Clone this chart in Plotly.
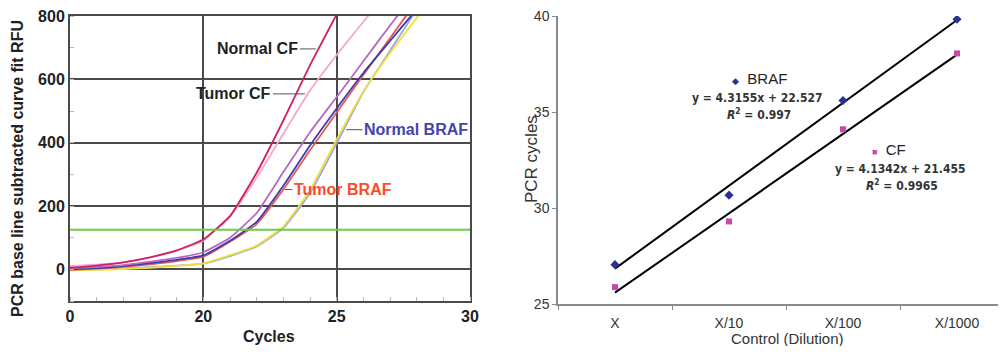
import plotly.graph_objects as go

# ---------------- data: left panel (amplification curves) ----------------
cycles = [15, 16, 17, 18, 19, 20, 21, 22, 23, 24, 25, 26, 27, 28, 29]
normal_cf_a = [5, 12, 22, 38, 60, 94, 168, 305, 470, 645, 805, 960, 1110, 1260, 1400]
tumor_cf_a = [10, 15, 22, 38, 58, 90, 167, 290, 428, 565, 677, 782, 885, 990, 1090]
tumor_braf_a = [3, 7, 13, 24, 36, 54, 100, 178, 307, 433, 544, 657, 770, 880, 990]
tumor_braf_b = [0, 4, 10, 20, 30, 44, 90, 150, 264, 391, 508, 620, 721, 821, 920]
tumor_braf_c = [-2, 2, 8, 16, 26, 40, 87, 143, 252, 376, 495, 614, 730, 847, 960]
normal_braf_a = [-3, -2, 1, 5, 11, 19, 45, 75, 135, 250, 410, 562, 683, 794, 910]
normal_braf_b = [-2, 0, 3, 7, 12, 18, 42, 72, 130, 240, 398, 560, 690, 820, 940]
threshold = 125
x_tick_vals = [15, 20, 25, 30]
x_tick_text = ["0", "20", "25", "30"]
y_tick_vals = [0, 200, 400, 600, 800]

# ---------------- data: right panel (standard curves) ----------------
dilutions = ["X", "X/10", "X/100", "X/1000"]
dil_idx = [1, 2, 3, 4]
braf_ct = [27.05, 30.67, 35.6, 39.83]
cf_ct = [25.88, 29.3, 34.1, 38.05]
braf_slope, braf_intercept = 4.3155, 22.527
cf_slope, cf_intercept = 4.1342, 21.455

FONT = "Liberation Sans, Arial, sans-serif"
NARROW = "Liberation Sans Narrow, Arial Narrow, DejaVu Sans Condensed, Roboto Condensed, Roboto, sans-serif"

# page body has an 8px default margin: size figure to fit the 1006x354 window
OFF = 8
W, H = 1006 - 2 * OFF, 354 - 2 * OFF


def px_x(x):
    return (x - OFF) / W


def px_y(y):
    return 1 - (y - OFF) / H


fig = go.Figure()

curves = [
    (normal_braf_b, "#a0a4e0"),
    (normal_braf_a, "#ece23a"),
    (tumor_braf_c, "#e85858"),
    (tumor_braf_b, "#3c3ca8"),
    (tumor_braf_a, "#b866c8"),
    (tumor_cf_a, "#f7a6cc"),
    (normal_cf_a, "#cc2266"),
]
for ys, col in curves:
    fig.add_trace(go.Scatter(x=cycles, y=ys, mode="lines", xaxis="x", yaxis="y",
                             line=dict(color=col, width=1.8, shape="spline", smoothing=0.4),
                             showlegend=False, hoverinfo="skip"))

# threshold line
fig.add_shape(type="line", xref="x domain", x0=0, x1=1, yref="y", y0=threshold, y1=threshold,
              line=dict(color="#6ccc3c", width=2))

# ---------------- right panel ----------------
braf_fit = [braf_slope * v + braf_intercept for v in dil_idx]
cf_fit = [cf_slope * v + cf_intercept for v in dil_idx]
fig.add_trace(go.Scatter(x=dil_idx, y=braf_fit, mode="lines", xaxis="x2", yaxis="y2",
                         line=dict(color="black", width=2), showlegend=False))
fig.add_trace(go.Scatter(x=dil_idx, y=cf_fit, mode="lines", xaxis="x2", yaxis="y2",
                         line=dict(color="black", width=2), showlegend=False))
fig.add_trace(go.Scatter(x=dil_idx, y=braf_ct, mode="markers", xaxis="x2", yaxis="y2",
                         marker=dict(symbol="diamond", size=7, color="#2e2e9a"), showlegend=False))
fig.add_trace(go.Scatter(x=dil_idx, y=cf_ct, mode="markers", xaxis="x2", yaxis="y2",
                         marker=dict(symbol="square", size=6, color="#c848b0"), showlegend=False))

right_end = min(1.0, px_x(1003))
right_range_end = 0.5 + (right_end * W + OFF - 558) / 114.0

grid_col = "#4a4a4a"
fig.update_layout(
    width=W, height=H,
    autosize=False,
    margin=dict(l=0, r=0, t=0, b=0, pad=0, autoexpand=False),
    paper_bgcolor="white", plot_bgcolor="white",
    font=dict(family=FONT, color="#222"),
    xaxis=dict(domain=[px_x(70), px_x(470)], range=[15, 30], anchor="y", automargin=False,
               tickmode="array", tickvals=x_tick_vals, ticktext=x_tick_text,
               ticklabeloverflow="allow",
               showgrid=True, gridcolor=grid_col, gridwidth=1.5,
               showline=True, linecolor=grid_col, linewidth=2, mirror=True,
               ticks="", zeroline=False,
               tickfont=dict(size=16, family=FONT, weight="bold", color="#222"),
               minor=dict(dtick=1, ticks="inside", ticklen=4, tickcolor="#bbbbbb", showgrid=False)),
    yaxis=dict(domain=[px_y(301), px_y(16)], range=[-100, 800], anchor="x", automargin=False,
               tickmode="array", tickvals=y_tick_vals,
               ticklabeloverflow="allow",
               showgrid=True, gridcolor=grid_col, gridwidth=1.5,
               showline=True, linecolor=grid_col, linewidth=2, mirror=True,
               ticks="", zeroline=False,
               tickfont=dict(size=16, family=FONT, weight="bold", color="#222"),
               minor=dict(dtick=100, ticks="inside", ticklen=4, tickcolor="#bbbbbb", showgrid=False)),
    xaxis2=dict(domain=[px_x(558), right_end], range=[0.5, right_range_end], anchor="y2", automargin=False,
                tickmode="array", tickvals=dil_idx, ticktext=dilutions,
                ticklabeloverflow="allow", ticklabelstandoff=5,
                showgrid=False, zeroline=False, showline=True, linecolor="#8a8a8a", linewidth=1.5,
                ticks="", tickfont=dict(size=14, family=FONT, color="#333"),
                minor=dict(tick0=0.5, dtick=1, ticks="outside", ticklen=4, tickcolor="#8a8a8a")),
    yaxis2=dict(domain=[px_y(304), px_y(16)], range=[25, 40], anchor="x2", automargin=False,
                tickmode="array", tickvals=[25, 30, 35, 40],
                ticklabeloverflow="allow",
                showgrid=False, zeroline=False, showline=True, linecolor="#8a8a8a", linewidth=1.5,
                ticks="outside", ticklen=4, tickcolor="#8a8a8a",
                tickfont=dict(size=14, family=FONT, color="#333")),
)


def txt(text, x, y, size, color="#222", weight="normal", family=FONT, angle=0):
    return dict(text=text, xref="paper", yref="paper", x=px_x(x), y=px_y(y),
                xanchor="center", yanchor="middle", textangle=angle, showarrow=False,
                font=dict(size=size, family=family, weight=weight, color=color))


ann = []
# axis titles
ann.append(txt("PCR base line subtracted curve fit RFU", 17, 169, 16, weight="bold", angle=-90))
ann.append(txt("Cycles", 269, 336, 16, weight="bold"))
ann.append(txt("PCR cycles", 532, 159, 17, color="#333", angle=-90))
ann.append(txt("Control (Dilution)", 787, 338, 15, color="#333"))

# curve labels with leader dashes
lab_font = dict(size=16, family=FONT, weight="bold")


def lab(text, x, y, ax, color):
    return dict(text=text, xref="x", yref="y", x=x, y=y, ax=ax, ay=0,
                xanchor="center", yanchor="middle",
                showarrow=True, arrowhead=0, arrowwidth=1, arrowcolor="#555",
                font=dict(color=color, **lab_font))


ann.append(lab("Normal CF", 24.22, 696, -58, "#222"))
ann.append(lab("Tumor CF", 23.81, 554, -71, "#222"))
ann.append(lab("Normal BRAF", 25.35, 441, 70, "#4444aa"))
ann.append(lab("Tumor BRAF", 23.06, 252, 58, "#ff4a2a"))

# right panel legend-like labels and equations
ann.append(txt("<span style='color:#2e2e9a;font-size:9px'>◆</span>  BRAF", 759, 79, 15))
ann.append(txt("y = 4.3155x + 22.527", 757, 98, 12, color="#333", weight="bold", family=NARROW))
ann.append(txt("<i>R</i><sup>2</sup> = 0.997", 759, 114, 12, color="#333", weight="bold", family=NARROW))
ann.append(txt("<span style='color:#c848b0;font-size:9px'>■</span>  CF", 889, 150, 15))
ann.append(txt("y = 4.1342x + 21.455", 900, 169, 12, color="#333", weight="bold", family=NARROW))
ann.append(txt("<i>R</i><sup>2</sup> = 0.9965", 902, 185, 12, color="#333", weight="bold", family=NARROW))

fig.update_layout(annotations=ann)
fig.write_html("out.html")
